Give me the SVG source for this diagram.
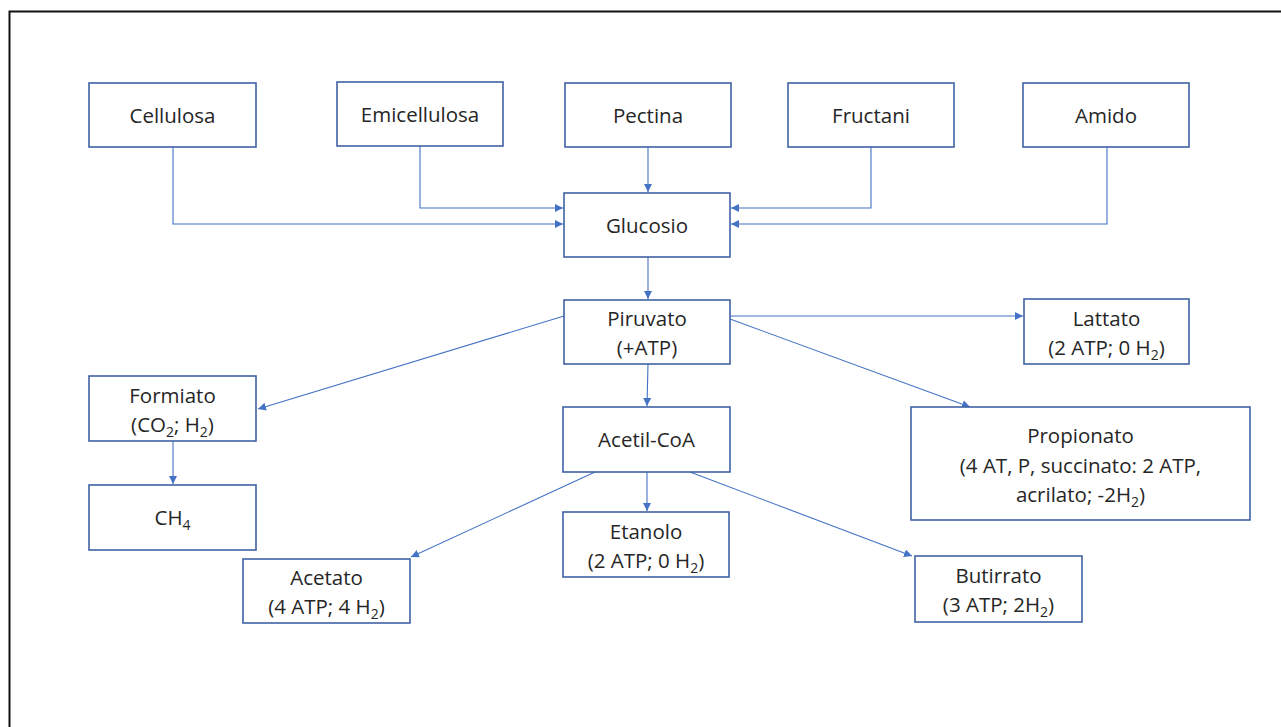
<svg xmlns="http://www.w3.org/2000/svg" width="1281" height="727" viewBox="0 0 1281 727">
<style>
.box{fill:#ffffff;stroke:#3f62a3;stroke-width:1.6}
.lbl{font-family:"Open Sans","Liberation Sans",sans-serif;font-size:20.5px;fill:#262626;text-anchor:middle}
.sub{font-size:14px}
.con{fill:none;stroke:#4472c4;stroke-width:1.1}
</style>
<defs>
<marker id="ah" markerUnits="userSpaceOnUse" markerWidth="10" markerHeight="10" refX="8" refY="4" orient="auto">
<path d="M0,0 L8,4 L0,8 Z" fill="#4472c4"/>
</marker>
</defs>
<rect width="1281" height="727" fill="#ffffff"/>
<path d="M9.5,727 V11.5 H1281" fill="none" stroke="#111111" stroke-width="2"/>

<g id="connectors">
<path class="con" d="M173,147 V224 H563" marker-end="url(#ah)"/>
<path class="con" d="M420,146 V208 H563" marker-end="url(#ah)"/>
<path class="con" d="M648,147 V192" marker-end="url(#ah)"/>
<path class="con" d="M871,147 V208 H731" marker-end="url(#ah)"/>
<path class="con" d="M1107,147 V224 H731" marker-end="url(#ah)"/>
<path class="con" d="M648,257 V299" marker-end="url(#ah)"/>
<path class="con" d="M564,316 L258,409" marker-end="url(#ah)"/>
<path class="con" d="M730,316 H1023" marker-end="url(#ah)"/>
<path class="con" d="M730,319 L970,407" marker-end="url(#ah)"/>
<path class="con" d="M648,364 L647,406" marker-end="url(#ah)"/>
<path class="con" d="M173,441 V484" marker-end="url(#ah)"/>
<path class="con" d="M595,472 L411,557" marker-end="url(#ah)"/>
<path class="con" d="M647,472 V511" marker-end="url(#ah)"/>
<path class="con" d="M690,472 L912,556" marker-end="url(#ah)"/>
</g>

<g id="cellulosa"><rect class="box" x="89" y="83" width="167" height="64"/><text class="lbl" x="172.5" y="123">Cellulosa</text></g>
<g id="emicellulosa"><rect class="box" x="337" y="82" width="166" height="64"/><text class="lbl" x="420" y="122">Emicellulosa</text></g>
<g id="pectina"><rect class="box" x="565" y="83" width="166" height="64"/><text class="lbl" x="648" y="123">Pectina</text></g>
<g id="fructani"><rect class="box" x="788" y="83" width="166" height="64"/><text class="lbl" x="871" y="123">Fructani</text></g>
<g id="amido"><rect class="box" x="1023" y="83" width="166" height="64"/><text class="lbl" x="1106" y="123">Amido</text></g>
<g id="glucosio"><rect class="box" x="564" y="193" width="166" height="64"/><text class="lbl" x="647" y="233">Glucosio</text></g>
<g id="piruvato"><rect class="box" x="564" y="300" width="166" height="64"/><text class="lbl" x="647" y="326">Piruvato</text><text class="lbl" x="647" y="355">(+ATP)</text></g>
<g id="lattato"><rect class="box" x="1024" y="299" width="165" height="65"/><text class="lbl" x="1106.5" y="326">Lattato</text><text class="lbl" x="1106.5" y="355">(2 ATP; 0 H<tspan class="sub" dy="5">2</tspan><tspan dy="-5">)</tspan></text></g>
<g id="formiato"><rect class="box" x="89" y="376" width="167" height="65"/><text class="lbl" x="172.5" y="403">Formiato</text><text class="lbl" x="172.5" y="432">(CO<tspan class="sub" dy="5">2</tspan><tspan dy="-5">; H</tspan><tspan class="sub" dy="5">2</tspan><tspan dy="-5">)</tspan></text></g>
<g id="acetil-coa"><rect class="box" x="563" y="407" width="167" height="65"/><text class="lbl" x="646.5" y="447">Acetil-CoA</text></g>
<g id="propionato"><rect class="box" x="911" y="407" width="339" height="113"/><text class="lbl" x="1080.5" y="443">Propionato</text><text class="lbl" x="1080.5" y="473">(4 AT, P, succinato: 2 ATP,</text><text class="lbl" x="1080.5" y="502">acrilato; -2H<tspan class="sub" dy="5">2</tspan><tspan dy="-5">)</tspan></text></g>
<g id="ch4"><rect class="box" x="89" y="485" width="167" height="65"/><text class="lbl" x="172.5" y="525">CH<tspan class="sub" dy="5">4</tspan></text></g>
<g id="etanolo"><rect class="box" x="563" y="512" width="166" height="65"/><text class="lbl" x="646" y="539">Etanolo</text><text class="lbl" x="646" y="568">(2 ATP; 0 H<tspan class="sub" dy="5">2</tspan><tspan dy="-5">)</tspan></text></g>
<g id="acetato"><rect class="box" x="243" y="559" width="167" height="64"/><text class="lbl" x="326.5" y="585">Acetato</text><text class="lbl" x="326.5" y="614">(4 ATP; 4 H<tspan class="sub" dy="5">2</tspan><tspan dy="-5">)</tspan></text></g>
<g id="butirrato"><rect class="box" x="915" y="556" width="167" height="66"/><text class="lbl" x="998.5" y="583">Butirrato</text><text class="lbl" x="998.5" y="612">(3 ATP; 2H<tspan class="sub" dy="5">2</tspan><tspan dy="-5">)</tspan></text></g>
</svg>
